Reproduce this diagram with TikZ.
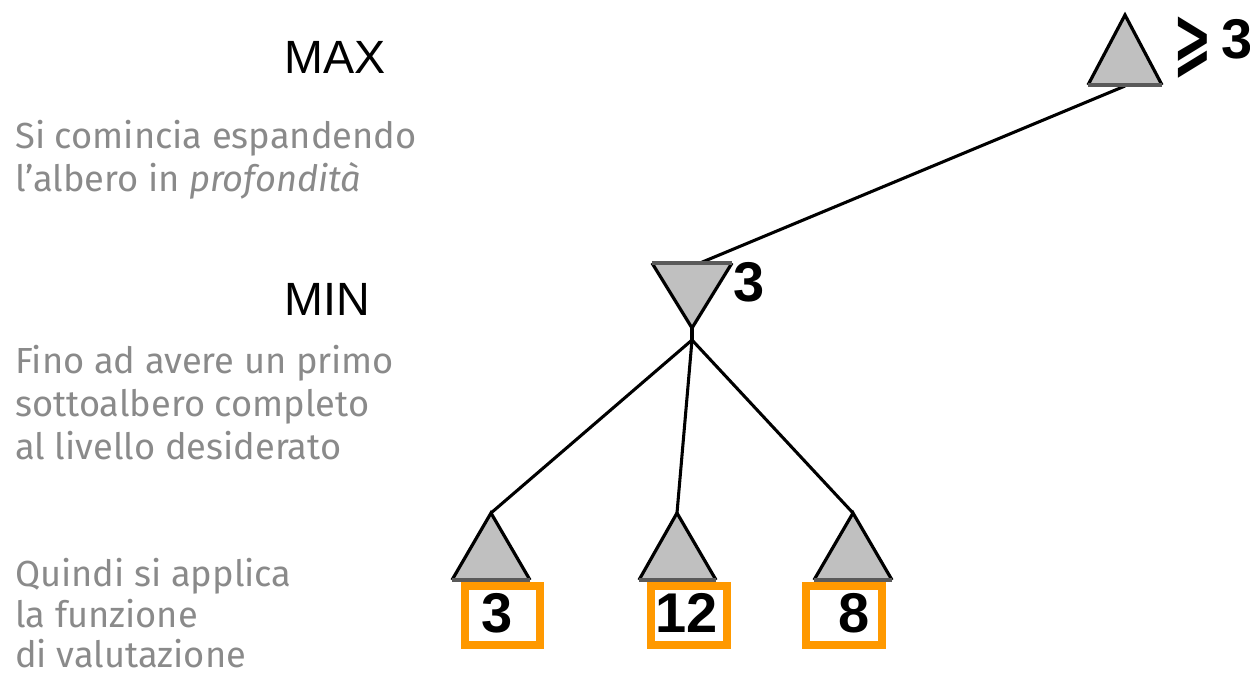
\documentclass[tikz,border=0pt]{standalone}
\usepackage{fontspec}
\newfontfamily\grayfont{Fira Sans}
\newfontfamily\lblfont{Liberation Sans}
\newfontfamily\symfont{DejaVu Sans}
\definecolor{trifillc}{HTML}{C0C0C0}
\definecolor{tribasec}{HTML}{5A5A5A}
\definecolor{boxorange}{HTML}{FF9900}
\definecolor{txtgray}{HTML}{8A8A8A}
\tikzset{
  trifill/.style={fill=trifillc},
  triside/.style={draw=black,line width=2.4pt,line join=miter},
  tribase/.style={draw=tribasec,line width=3pt},
  edgeline/.style={draw=black,line width=2.3pt},
  obox/.style={draw=boxorange,line width=6pt},
  graytxt/.style={anchor=base west,inner sep=0pt,text=txtgray,font=\grayfont\fontsize{27.2}{27.2}\selectfont},
  lvltxt/.style={anchor=base west,inner sep=0pt,text=black,font=\lblfont\fontsize{35}{35}\selectfont},
  numtxt/.style={anchor=base west,inner sep=0pt,text=black,font=\lblfont\bfseries\fontsize{42}{42}\selectfont},
}
\begin{document}
\begin{tikzpicture}[x=0.75pt,y=-0.75pt]
\useasboundingbox (0,0) rectangle (1250,676);

% level labels
\node[lvltxt] (lmax) at (284,73) {MAX};
\node[lvltxt] (lmin) at (284,315) {MIN};

% grey explanations
\node[graytxt] (g1) at (15,148) {Si comincia espandendo};
\node[graytxt] (g2) at (15,191) {l’albero in \textit{profondità}};
\node[graytxt] (g3) at (15,373) {Fino ad avere un primo};
\node[graytxt] (g4) at (15,416) {sottoalbero completo};
\node[graytxt] (g5) at (15,459) {al livello desiderato};
\node[graytxt] (g6) at (15,586) {Quindi si applica};
\node[graytxt] (g7) at (15,627) {la funzione};
\node[graytxt] (g8) at (15,667) {di valutazione};

% named points of the tree
\coordinate (rootout) at (1125,86);
\coordinate (minin) at (700,263);
\coordinate (minapex) at (692,328);
\coordinate (minout) at (692,340);
\coordinate (la) at (491,513);
\coordinate (ma) at (677,513);
\coordinate (ra) at (853,513);

% connectors
\draw[edgeline] (rootout) -- (minin);
\draw[edgeline,line width=3.2pt] (minapex) -- (minout);
\draw[edgeline] (minout) -- (la);
\draw[edgeline] (minout) -- (ma);
\draw[edgeline] (minout) -- (ra);

% root (MAX) triangle
\fill[trifill] (1125,15) -- (1162,85) -- (1088,85) -- cycle;
\draw[triside] (1088,85) -- (1125,15) -- (1162,85);
\draw[tribase] (1088,85) -- (1162,85);

% MIN triangle
\fill[trifill] (652,263) -- (732,263) -- (minapex) -- cycle;
\draw[triside] (652,263) -- (minapex) -- (732,263);
\draw[tribase] (652,263) -- (732,263);

% leaves
\fill[trifill] (la) -- (530,580) -- (452,580) -- cycle;
\draw[triside] (452,580) -- (la) -- (530,580);
\draw[tribase] (452,580) -- (530,580);

\fill[trifill] (ma) -- (716,580) -- (639,580) -- cycle;
\draw[triside] (639,580) -- (ma) -- (716,580);
\draw[tribase] (639,580) -- (716,580);

\fill[trifill] (ra) -- (892,580) -- (814,580) -- cycle;
\draw[triside] (814,580) -- (ra) -- (892,580);
\draw[tribase] (814,580) -- (892,580);

% orange boxes
\draw[obox] (465,586) rectangle (540,645);
\draw[obox] (651,586) rectangle (727,645);
\draw[obox] (806,586) rectangle (882,645);

% values
\node[numtxt] (vmin) at (733,301) {3};
\node[numtxt] (v1) at (481,632) {3};
\node[numtxt] (v2) at (655,632) {12};
\node[numtxt] (v3) at (838,632) {8};
\node[anchor=north west,inner sep=0pt] (geq) at (1173,17) {\resizebox*{29pt}{46pt}{\symfont\bfseries ⩾}};
\node[numtxt] (vroot) at (1221,58) {3};
\end{tikzpicture}
\end{document}
